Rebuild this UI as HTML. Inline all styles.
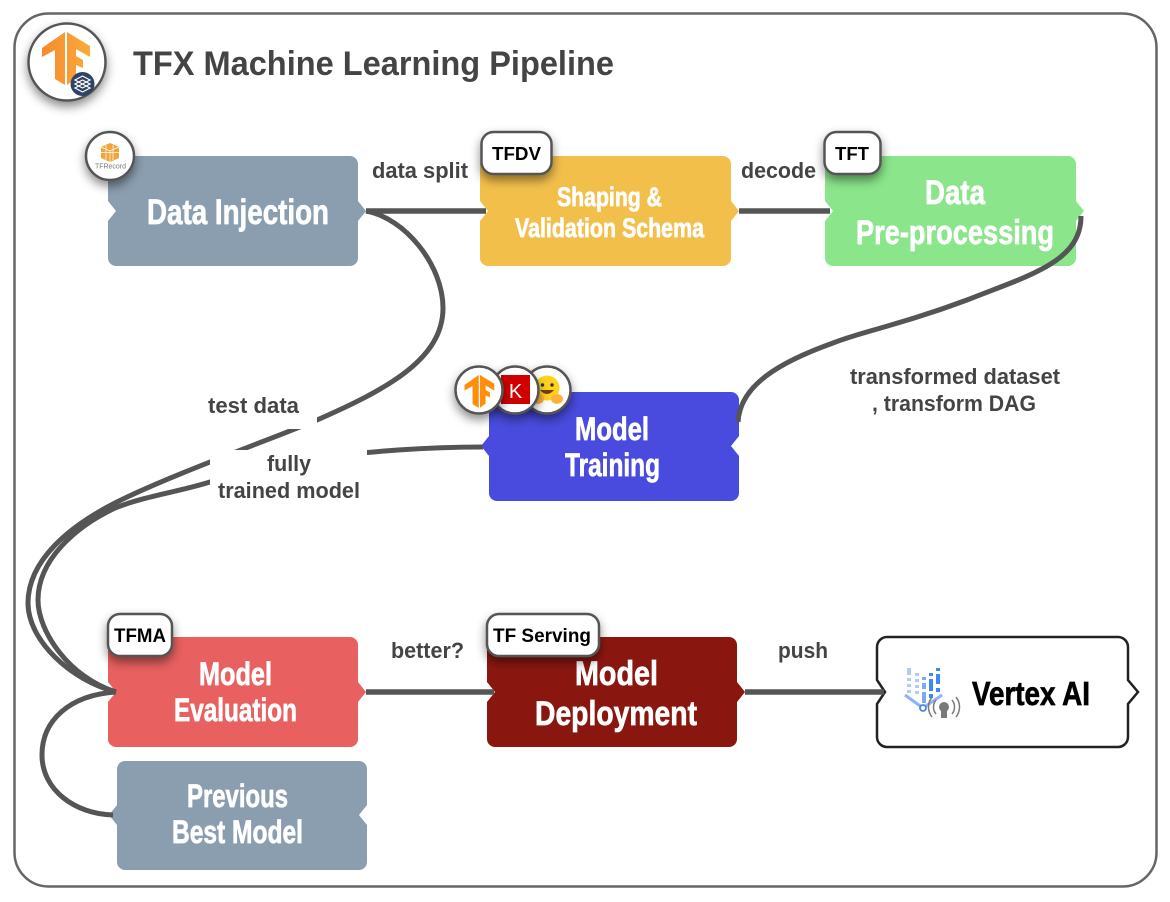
<!DOCTYPE html>
<html><head><meta charset="utf-8"><style>html,body{margin:0;padding:0;background:#fff;width:1170px;height:902px;overflow:hidden}svg{display:block}
.w{font-family:"Liberation Sans Narrow","Liberation Sans",sans-serif;font-weight:700;fill:#fff;stroke:#fff;stroke-width:.7}
.l{font-family:"Liberation Sans",sans-serif;font-weight:700;fill:#444}
.b{font-family:"Liberation Sans",sans-serif;font-weight:700;fill:#000}
</style></head><body>
<svg width="1170" height="902" viewBox="0 0 1170 902" xmlns="http://www.w3.org/2000/svg">
<defs>
<filter id="s" x="-40%" y="-40%" width="180%" height="200%"><feDropShadow dx="0" dy="5" stdDeviation="5" flood-color="#000" flood-opacity=".45"/></filter>
<linearGradient id="o" x1="0" x2="1" y1="0" y2="0"><stop offset="0" stop-color="#f58a2e"/><stop offset="1" stop-color="#f9ab3a"/></linearGradient>
<path id="tf" d="M42,48L65,32V85L55,79V50L42,57ZM67,32L90,46V57L76,49V56L83,60V68L76,65V78L67,85Z"/>
</defs>
<rect x="14.500" y="13.500" width="1142" height="873" rx="34" fill="#fff" stroke="#666" stroke-width="2.500"/>
<text class="l" x="133" y="75" font-size="34" textLength="481" lengthAdjust="spacingAndGlyphs">TFX Machine Learning Pipeline</text>

<!-- boxes -->
<path fill="#8b9eb0" d="M116,156H350a8,8 0 0 1 8,8V201L366,211L358,221V258a8,8 0 0 1 -8,8H116a8,8 0 0 1 -8,-8V221L116,211L108,201V164a8,8 0 0 1 8,-8Z"/>
<path fill="#f2bf4b" d="M488,156H723a8,8 0 0 1 8,8V201L739,211L731,221V258a8,8 0 0 1 -8,8H488a8,8 0 0 1 -8,-8V221L488,211L480,201V164a8,8 0 0 1 8,-8Z"/>
<path fill="#8be58b" d="M833,156H1068a8,8 0 0 1 8,8V201L1084,211L1076,221V258a8,8 0 0 1 -8,8H833a8,8 0 0 1 -8,-8V221L833,211L825,201V164a8,8 0 0 1 8,-8Z"/>
<path fill="#484bdd" d="M497,392H731a8,8 0 0 1 8,8V436L731,446L739,456V493a8,8 0 0 1 -8,8H497a8,8 0 0 1 -8,-8V456L481,446L489,436V400a8,8 0 0 1 8,-8Z"/>
<path fill="#e86060" d="M116,637H350a8,8 0 0 1 8,8V682L366,692L358,702V739a8,8 0 0 1 -8,8H116a8,8 0 0 1 -8,-8V702L116,692L108,682V645a8,8 0 0 1 8,-8Z"/>
<path fill="#8a170f" d="M495,637H729a8,8 0 0 1 8,8V682L745,692L737,702V739a8,8 0 0 1 -8,8H495a8,8 0 0 1 -8,-8V702L495,692L487,682V645a8,8 0 0 1 8,-8Z"/>
<path fill="#8b9eb0" d="M125,761H359a8,8 0 0 1 8,8V805L359,815L367,825V862a8,8 0 0 1 -8,8H125a8,8 0 0 1 -8,-8V825L109,815L117,805V769a8,8 0 0 1 8,-8Z"/>
<path fill="#fff" stroke="#222" stroke-width="2.500" d="M887,637H1118a10,10 0 0 1 10,10V680L1138,692L1128,704V737a10,10 0 0 1 -10,10H887a10,10 0 0 1 -10,-10V704L885,692L877,680V647a10,10 0 0 1 10,-10Z"/>

<!-- connectors -->
<g fill="none" stroke="#555" stroke-width="5">
<path stroke-width="5.500" d="M366,211H486"/>
<path stroke-width="5.500" d="M739,211H830"/>
<path stroke-width="5.500" d="M366,692H494"/>
<path stroke-width="5.500" d="M745,692H884"/>
<path d="M1081,216C1081,262 1030,275 967,300C900,325 860,332 833,343C780,362 740,385 738,422"/>
<path d="M366,211C405,218 443,265 443,308C443,360 385,390 317,420C280,436 170,475 115,503C70,526 28,560 28,603C28,640 70,680 116,692"/>
<path d="M483,447C420,447 370,452 330,456C290,460 250,469 210,482C178,492 145,496 115,508C75,527 38,560 38,600C38,632 70,678 116,692"/>
<path d="M116,692C70,695 42,720 42,755C42,790 75,814 113,815"/>
</g>
<!-- label masks -->
<rect x="198" y="390" width="119" height="39" fill="#fff"/>
<rect x="210" y="450" width="157" height="55" fill="#fff"/>

<!-- labels -->
<text class="l" font-size="22" x="372" y="178" textLength="96" lengthAdjust="spacingAndGlyphs">data split</text>
<text class="l" font-size="22" x="741" y="178" textLength="75" lengthAdjust="spacingAndGlyphs">decode</text>
<text class="l" font-size="22" x="850" y="384" textLength="210" lengthAdjust="spacingAndGlyphs">transformed dataset</text>
<text class="l" font-size="22" x="872" y="411" textLength="164" lengthAdjust="spacingAndGlyphs">, transform DAG</text>
<text class="l" font-size="22" x="208" y="413" textLength="91" lengthAdjust="spacingAndGlyphs">test data</text>
<text class="l" font-size="22" x="267" y="471" textLength="44" lengthAdjust="spacingAndGlyphs">fully</text>
<text class="l" font-size="22" x="218" y="498" textLength="142" lengthAdjust="spacingAndGlyphs">trained model</text>
<text class="l" font-size="22" x="391" y="658" textLength="73" lengthAdjust="spacingAndGlyphs">better?</text>
<text class="l" font-size="22" x="778" y="658" textLength="50" lengthAdjust="spacingAndGlyphs">push</text>

<!-- box text -->
<text class="w" font-size="35" x="147" y="224" textLength="182" lengthAdjust="spacingAndGlyphs">Data Injection</text>
<text class="w" font-size="27" x="557" y="206" textLength="105" lengthAdjust="spacingAndGlyphs">Shaping &amp;</text>
<text class="w" font-size="27" x="515" y="237" textLength="189" lengthAdjust="spacingAndGlyphs">Validation Schema</text>
<text class="w" font-size="34" x="925" y="204" textLength="60" lengthAdjust="spacingAndGlyphs">Data</text>
<text class="w" font-size="34" x="856" y="244" textLength="198" lengthAdjust="spacingAndGlyphs">Pre-processing</text>
<text class="w" font-size="32" x="575" y="440" textLength="74" lengthAdjust="spacingAndGlyphs">Model</text>
<text class="w" font-size="32" x="565" y="476" textLength="95" lengthAdjust="spacingAndGlyphs">Training</text>
<text class="w" font-size="32" x="199" y="685" textLength="73" lengthAdjust="spacingAndGlyphs">Model</text>
<text class="w" font-size="32" x="174" y="721" textLength="123" lengthAdjust="spacingAndGlyphs">Evaluation</text>
<text class="w" font-size="34" x="575" y="685" textLength="83" lengthAdjust="spacingAndGlyphs">Model</text>
<text class="w" font-size="34" x="535" y="725" textLength="162" lengthAdjust="spacingAndGlyphs">Deployment</text>
<text class="w" font-size="32" x="187" y="807" textLength="101" lengthAdjust="spacingAndGlyphs">Previous</text>
<text class="w" font-size="32" x="172" y="843" textLength="131" lengthAdjust="spacingAndGlyphs">Best Model</text>
<text class="w" style="fill:#000;stroke:#000" font-size="33" x="972" y="705" textLength="118" lengthAdjust="spacingAndGlyphs">Vertex AI</text>

<!-- Vertex icon -->
<g>
<g fill="#aecbfa"><rect x="907" y="668" width="4" height="7"/><rect x="907" y="678" width="4" height="3"/><rect x="907" y="684" width="4" height="3"/><rect x="907" y="690" width="4" height="3"/><rect x="915" y="673" width="4" height="3"/><rect x="915" y="679" width="4" height="3"/><rect x="915" y="685" width="4" height="3"/><rect x="915" y="691" width="4" height="3"/></g>
<g fill="#7baaf7"><rect x="922" y="677" width="4" height="3"/><rect x="922" y="683" width="4" height="6"/><rect x="922" y="692" width="4" height="11"/></g>
<g fill="#4285f4"><rect x="929" y="673" width="4" height="3"/><rect x="929" y="679" width="4" height="12"/><rect x="929" y="694" width="4" height="4"/><rect x="936" y="668" width="4" height="3"/><rect x="936" y="674" width="4" height="10"/><rect x="936" y="688" width="4" height="4"/></g>
<path d="M905,695L923,708L942,695" fill="none" stroke="#8ab4f8" stroke-width="3"/>
<circle cx="923" cy="708" r="3" fill="#fff" stroke="#4285f4" stroke-width="1.800"/>
<circle cx="944" cy="707" r="5" fill="#7a7a7a"/><rect x="941" y="711" width="6" height="7" fill="#7a7a7a"/>
<path d="M936,700a11,11 0 0 0 0,14M932,697a16,16 0 0 0 0,20M952,700a11,11 0 0 1 0,14M956,697a16,16 0 0 1 0,20" fill="none" stroke="#7a7a7a" stroke-width="1.500"/>
</g>

<!-- main logo -->
<circle cx="67" cy="62" r="38.500" fill="#fff" stroke="#555" stroke-width="2.500" filter="url(#s)"/>
<use href="#tf" fill="url(#o)"/>
<circle cx="82.500" cy="84" r="12" fill="#2f4464"/>
<path d="M75,80L82.500,76L90,80L82.500,84ZM75,84L82.500,80L90,84L82.500,88ZM75,88L82.500,84L90,88L82.500,92Z" fill="none" stroke="#fff" stroke-width="1.200"/>

<!-- TFRecord -->
<circle cx="110" cy="156" r="24" fill="#fff" stroke="#555" stroke-width="2.500" filter="url(#s)"/>
<path d="M110,143L119,147V158L110,162L101,158V147Z" fill="#f2a33a"/>
<path d="M101,152.500H119M106,145V160M113,145V160M101,147L110,151L119,147M110,151V162" fill="none" stroke="#fff" stroke-width=".7"/>
<text x="110.500" y="168.500" font-family="Liberation Sans,sans-serif" font-size="7.500" fill="#777" text-anchor="middle" textLength="31" lengthAdjust="spacingAndGlyphs">TFRecord</text>

<!-- badges -->
<rect x="481.500" y="132" width="70" height="42" rx="12" fill="#fff" stroke="#555" stroke-width="2.500" filter="url(#s)"/>
<text class="b" x="492" y="160" font-size="18.500" textLength="49" lengthAdjust="spacingAndGlyphs">TFDV</text>
<rect x="824.500" y="132" width="56" height="42" rx="12" fill="#fff" stroke="#555" stroke-width="2.500" filter="url(#s)"/>
<text class="b" x="835" y="160" font-size="18.500" textLength="34" lengthAdjust="spacingAndGlyphs">TFT</text>
<rect x="108" y="614" width="64" height="42" rx="12" fill="#fff" stroke="#555" stroke-width="2.500" filter="url(#s)"/>
<text class="b" x="114" y="642" font-size="19" textLength="52" lengthAdjust="spacingAndGlyphs">TFMA</text>
<rect x="487" y="614" width="112" height="42" rx="12" fill="#fff" stroke="#555" stroke-width="2.500" filter="url(#s)"/>
<text class="b" x="493" y="642" font-size="19" textLength="98" lengthAdjust="spacingAndGlyphs">TF Serving</text>

<!-- training icons -->
<circle cx="547" cy="390" r="23.500" fill="#fff" stroke="#555" stroke-width="2.500" filter="url(#s)"/>
<circle cx="547" cy="388" r="12.500" fill="#ffd21e"/>
<path d="M540,390q7,8 14,0z" fill="#7a3b12"/>
<circle cx="542.500" cy="385" r="1.700" fill="#333"/><circle cx="552" cy="385" r="1.700" fill="#333"/>
<ellipse cx="557" cy="399" rx="6" ry="5" fill="#ffb13b"/><ellipse cx="538" cy="399" rx="6" ry="5" fill="#ffb13b"/>
<circle cx="515" cy="390" r="23.500" fill="#fff" stroke="#555" stroke-width="2.500" filter="url(#s)"/>
<rect x="501" y="375" width="29" height="29" fill="#d00000"/>
<text x="515.500" y="398" font-family="Liberation Sans,sans-serif" font-size="20" fill="#fff" text-anchor="middle">K</text>
<circle cx="479" cy="390" r="23.500" fill="#fff" stroke="#555" stroke-width="2.500" filter="url(#s)"/>
<use href="#tf" transform="translate(464.500,375) scale(.62) translate(-42,-32)" fill="#ff8f0a"/>
</svg>
</body></html>
